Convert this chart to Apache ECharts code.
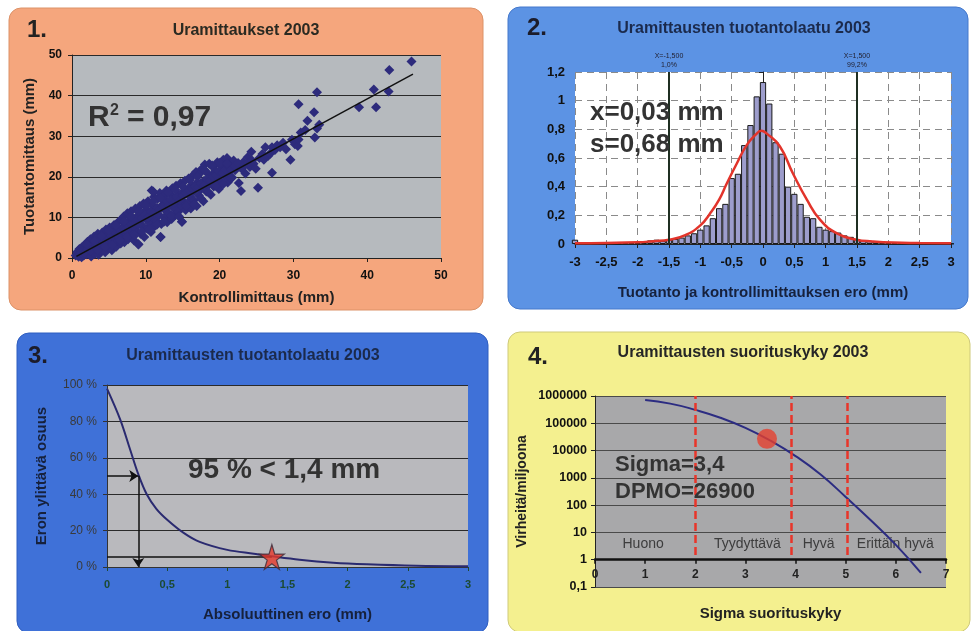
<!DOCTYPE html>
<html><head><meta charset="utf-8">
<script src="https://cdn.jsdelivr.net/npm/echarts@6/dist/echarts.min.js"></script>
<style>html,body{margin:0;padding:0;background:#fff}#c{width:971px;height:631px}</style>
</head><body><div id="c"></div>
<script>
const F = "'Liberation Sans', Arial, Helvetica, sans-serif";

// ---------- Panel 1: Uramittaukset 2003 (scatter) ----------
const scatterPoints = [
 [0.5,0.6],[0.7,1.5],[0.9,0.3],[1.0,2.2],[1.1,1.0],[1.3,0.2],[1.4,2.8],[1.5,1.6],[1.6,0.6],[1.8,3.3],
 [1.9,2.0],[2.0,0.9],[2.1,4.0],[2.3,2.7],[2.4,1.2],[2.5,4.6],[2.6,0.4],[2.7,3.4],[2.9,2.1],[3.0,5.3],
 [3.1,1.0],[3.2,3.9],[3.4,2.6],[3.5,6.0],[3.6,0.8],[3.7,4.6],[3.8,1.8],[4.0,3.5],[4.1,6.3],[4.2,2.3],
 [4.4,5.0],[4.5,1.4],[4.6,7.0],[4.7,3.6],[4.9,5.6],[5.0,2.6],[5.1,7.5],[5.2,4.3],[5.4,1.9],[5.5,6.4],
 [5.6,3.4],[5.7,8.1],[5.8,5.0],[6.0,2.8],[6.1,7.0],[6.2,4.2],[6.3,8.9],[6.4,5.7],[6.6,3.6],[6.7,9.4],
 [6.8,7.3],[6.9,5.0],[7.0,10.2],[7.1,3.9],[7.3,8.0],[7.4,6.0],[7.5,11.0],[7.6,4.6],[7.7,9.2],[7.9,7.0],
 [8.0,11.5],[8.1,5.5],[8.2,9.8],[8.4,4.3],[8.5,8.2],[8.6,12.2],[8.7,6.6],[8.9,10.4],[9.0,3.4],[9.1,8.9],
 [9.2,12.8],[9.3,6.0],[9.5,10.9],[9.6,7.8],[9.7,13.4],[9.8,5.2],[10.0,9.6],[10.1,12.0],[10.2,7.2],[10.3,14.0],
 [10.5,8.6],[10.6,11.0],[10.7,6.4],[10.8,16.6],[10.9,13.0],[11.0,9.8],[11.1,15.0],[11.2,7.8],[11.4,12.0],[11.5,9.0],
 [11.6,14.6],[11.8,10.6],[11.9,16.0],[12.0,5.2],[12.1,8.4],[12.2,13.0],[12.4,15.2],[12.5,10.0],[12.6,11.8],[12.8,16.6],
 [12.9,8.8],[13.0,13.8],[13.1,11.0],[13.3,15.8],[13.5,9.6],[13.6,17.2],[13.7,12.4],[13.9,14.6],[14.0,10.6],[14.1,17.8],
 [14.3,13.2],[14.4,11.4],[14.5,15.6],[14.7,18.4],[14.8,12.8],[14.9,8.9],[15.0,16.2],[15.1,14.0],[15.3,19.0],[15.4,11.8],
 [15.6,16.8],[15.7,13.6],[15.8,19.6],[16.0,15.0],[16.1,12.2],[16.2,18.0],[16.4,20.4],[16.5,14.2],[16.6,16.6],[16.8,21.2],
 [16.9,12.8],[17.0,18.6],[17.2,15.4],[17.3,20.8],[17.5,17.0],[17.6,22.0],[17.8,14.0],[17.9,19.0],[18.0,23.0],[18.2,16.4],
 [18.3,21.0],[18.5,18.0],[18.6,23.2],[18.8,15.6],[18.9,20.2],[19.1,22.4],[19.2,17.6],[19.4,21.4],[19.6,19.0],[19.7,23.6],
 [19.9,17.0],[20.0,20.8],[20.2,22.8],[20.3,18.6],[20.5,24.2],[20.7,20.2],[20.8,22.0],[21.0,24.6],[21.1,18.6],[21.3,21.4],
 [21.5,23.4],[21.7,19.8],[21.9,24.0],[22.1,21.6],[22.3,23.0],[22.6,18.5],[22.8,22.4],[22.9,16.5],[23.2,23.6],[23.5,20.8],
 [23.8,24.8],[24.1,22.4],[24.3,26.2],[24.6,23.2],[24.9,22.0],[25.2,17.3],[25.4,24.6],[25.8,25.6],[26.0,24.2],[26.2,27.3],
 [26.6,25.2],[26.8,25.6],[27.1,27.3],[27.1,21.0],[27.5,26.6],[27.8,27.8],[28.2,27.3],[28.6,28.4],[29.0,26.8],[29.6,24.2],
 [29.8,29.1],[30.2,28.0],[30.6,27.6],[30.7,29.2],[30.7,37.9],[31.0,30.9],[31.6,31.5],[31.9,33.8],[32.8,35.9],[32.9,29.7],
 [33.2,31.9],[33.2,40.8],[33.5,32.8],[38.9,37.1],[40.9,41.5],[41.2,37.1],[42.9,41.0],[43.0,46.3],[46.0,48.4],
 [11.0,16.4],[12.0,5.2],[9.0,3.3],[14.9,8.9],[3.3,4.8],[2.2,3.0],[1.2,1.8],[4.8,4.2],[6.5,6.6],[8.3,7.9],
 [10.4,10.2],[12.7,13.4],[14.6,14.4],[16.3,16.2],[18.1,18.8],[19.8,20.2],[7.8,8.4],[5.9,6.0],[3.9,4.0],
 [1.2,1.3],[1.7,1.2],[2.2,2.4],[2.8,3.0],[3.3,3.2],[3.9,4.6],[4.3,3.9],[4.8,5.3],[5.3,5.6],[5.9,6.2],
 [6.2,5.4],[6.5,6.9],[6.9,7.6],[7.2,7.0],[7.6,7.9],[7.9,8.6],[8.3,8.8],[8.7,9.3],[9.0,8.1],[9.4,9.8],
 [9.9,10.6],[10.3,10.0],[10.7,11.4],[11.1,11.2],[11.5,12.4],[11.9,12.0],[12.3,12.6],[12.7,14.2],[13.1,13.0],[13.4,14.4],
 [13.8,13.6],[14.2,15.0],[14.6,14.2],[15.0,15.4],[15.4,16.0],[15.9,16.8],[16.3,17.0],[16.7,17.6],[17.1,17.4],[17.5,18.4],
 [17.9,18.0],[18.3,19.4],[18.7,19.0],[19.1,20.0],[19.5,20.4],[19.9,21.4],[20.4,21.0],[20.8,21.8],[21.2,22.6],[21.6,21.8],
 [22.0,22.6],[22.5,23.4],[23.0,22.0],[23.4,23.0],[23.9,23.4],[24.4,24.0],
 [2.0,3.3],[3.0,4.2],[4.0,5.4],[5.0,6.8],[6.0,8.0],[7.0,9.0],[8.0,10.2],[9.0,11.6],[10.0,13.0],[11.0,14.0],
 [12.0,14.8],[13.0,16.2],[14.0,16.8],[15.0,17.6],[16.0,19.2],[17.0,20.0],[18.0,21.6],[19.0,22.8],[20.0,23.4],[21.0,23.2],
 [2.5,1.8],[3.5,2.0],[4.5,2.8],[5.5,3.2],[6.5,4.4],[7.5,5.2],[8.5,5.6],[9.5,6.6],[10.5,7.0],[11.5,8.2],
 [12.5,9.0],[13.5,10.4],[14.5,10.2],[15.5,12.8],[16.5,13.2],[17.5,14.6],[18.5,16.2],[19.5,17.8],[20.5,18.2],[21.5,19.6]
];
const trendLine = [[0.6, 0.4], [46.2, 45.3]];

// ---------- Panel 2: histogram of differences ----------
const histBins = [-3.0,-2.9,-2.8,-2.7,-2.6,-2.5,-2.4,-2.3,-2.2,-2.1,-2.0,-1.9,-1.8,-1.7,-1.6,-1.5,-1.4,-1.3,-1.2,-1.1,
 -1.0,-0.9,-0.8,-0.7,-0.6,-0.5,-0.4,-0.3,-0.2,-0.1,0.0,0.1,0.2,0.3,0.4,0.5,0.6,0.7,0.8,0.9,
 1.0,1.1,1.2,1.3,1.4,1.5,1.6,1.7,1.8,1.9,2.0,2.1,2.2,2.3,2.4,2.5,2.6,2.7,2.8,2.9,3.0];
const histHeights = [0.03,0.008,0.006,0.005,0.006,0.005,0.007,0.006,0.008,0.01,0.012,0.018,0.025,0.03,0.022,0.03,0.035,0.045,0.06,0.075,
 0.10,0.13,0.18,0.25,0.28,0.46,0.49,0.69,0.83,1.03,1.13,0.98,0.71,0.63,0.40,0.35,0.28,0.19,0.18,0.12,
 0.10,0.09,0.08,0.06,0.05,0.035,0.025,0.02,0.02,0.015,0.012,0.01,0.008,0.007,0.006,0.005,0.005,0.004,0.004,0.004,0.003];
const normalX = [-3,-2.5,-2,-1.75,-1.5,-1.25,-1,-0.85,-0.7,-0.58,-0.42,-0.26,-0.1,-0.03,0.06,0.27,0.48,0.7,0.91,1.18,1.49,1.75,2.08,2.5,3];
const normalY = [0.005,0.007,0.012,0.02,0.03,0.06,0.13,0.21,0.31,0.42,0.56,0.69,0.77,0.79,0.77,0.68,0.49,0.31,0.17,0.074,0.03,0.018,0.01,0.007,0.005];
const limitX = [-1.5, 1.5];
const limitLabels = ['X=-1,500\n1,0%', 'X=1,500\n99,2%'];

// ---------- Panel 3: exceedance curve ----------
const absDiff = [0,0.11,0.19,0.26,0.33,0.41,0.5,0.64,0.77,1.0,1.22,1.37,1.6,1.88,2.16,2.57,3.0];
const exceedShare = [98,81,65,51,40,32,26,18.6,13.8,9.4,7.3,5.9,4.0,2.4,1.5,0.7,0.4];
const halfPoint = [0.26, 50];
const p95Point = [1.37, 5.5];

// ---------- Panel 4: sigma performance ----------
const sigmaLevels = [1.0,1.5,2.0,2.5,3.0,3.5,4.0,4.5,5.0,5.5,6.0,6.5];
const dpmo = [710000,525000,310000,160000,68000,23000,6300,1320,200,28,3.5,0.33];
const currentPoint = [3.43, 26900];
const zoneBounds = [2.0, 3.92, 5.03];
const zoneNames = ['Huono','Tyydyttävä','Hyvä','Erittäin hyvä'];
const zoneLabelX = [0.96, 3.04, 4.46, 5.99];
const zoneLabelY = 3.8;

const comma = v => String(+v.toFixed(6)).replace('.', ',');

const G = [
 {left:72, top:55, width:369, height:203},
 {left:575, top:72, width:376, height:172},
 {left:107, top:385, width:361, height:182},
 {left:595, top:396, width:351, height:191}
];
const gridBg = ['#b6babe', '#ffffff', '#b9b9bd', '#a8a8aa'];

function txt(x, y, text, font, fill, align, extra) {
  return Object.assign({type:'text', x, y, z:100, style:{text, font, fill,
    align: align || 'left', textAlign: align || 'left', verticalAlign:'middle', textVerticalAlign:'middle'}}, extra || {});
}
function panel(x, y, w, h, fill, stroke) {
  return {type:'rect', z:-100, shape:{x, y, width:w, height:h, r:12}, style:{fill, stroke, lineWidth:1}};
}

const chart = echarts.init(document.getElementById('c'), null, {renderer:'canvas'});
const boldLbl = (size, color) => ({fontFamily:F, fontWeight:'bold', fontSize:size, color});

chart.setOption({
  animation:false,
  backgroundColor:'#ffffff',
  grid: G.map((g,i)=>Object.assign({show:true, backgroundColor:gridBg[i], borderWidth:0}, g)),
  graphic: [
    panel(9, 8, 474, 302, '#f5a67d', '#dc9268'),
    panel(508, 7, 460, 302, '#5c93e4', '#4478cc'),
    panel(17, 333, 471, 300, '#3f71d8', '#2f5ec0'),
    panel(508, 332, 462, 300, '#f4f08f', '#cfca7a'),
    txt(27, 30, '1.', 'bold 24px '+F, '#222'),
    txt(527, 28, '2.', 'bold 24px '+F, '#1c1c2a'),
    txt(28, 356, '3.', 'bold 24px '+F, '#1c1c2a'),
    txt(528, 357, '4.', 'bold 24px '+F, '#222'),
    txt(246, 31, 'Uramittaukset 2003', 'bold 16px '+F, '#2a2a22', 'center'),
    txt(744, 29, 'Uramittausten tuotantolaatu 2003', 'bold 16px '+F, '#1b2a4c', 'center'),
    txt(253, 356, 'Uramittausten tuotantolaatu 2003', 'bold 16px '+F, '#1b2a4c', 'center'),
    txt(743, 353, 'Uramittausten suorituskyky 2003', 'bold 16px '+F, '#262626', 'center'),
    txt(88, 118, 'R', 'bold 30px '+F, '#333'),
    txt(110, 111, '2', 'bold 16px '+F, '#333'),
    txt(127, 118, '= 0,97', 'bold 30px '+F, '#333'),
    txt(590, 113, 'x=0,03 mm', 'bold 26px '+F, '#333'),
    txt(590, 145, 's=0,68 mm', 'bold 26px '+F, '#333'),
    txt(188, 470, '95 % < 1,4 mm', 'bold 28px '+F, '#333'),
    txt(615, 465, 'Sigma=3,4', 'bold 22px '+F, '#333'),
    txt(615, 492, 'DPMO=26900', 'bold 22px '+F, '#333')
  ],
  xAxis: [
    {type:'value', gridIndex:0, min:0, max:50, interval:10,
     axisLine:{lineStyle:{color:'#222', width:1}}, axisTick:{show:true, length:4, lineStyle:{color:'#222'}},
     axisLabel:Object.assign({margin:12}, boldLbl(12,'#111')), splitLine:{show:false},
     name:'Kontrollimittaus (mm)', nameLocation:'middle', nameGap:32, nameTextStyle:boldLbl(15,'#222')},
    {type:'value', gridIndex:1, min:-3, max:3, interval:0.5,
     axisLine:{lineStyle:{color:'#222', width:1}}, axisTick:{show:true, length:4, lineStyle:{color:'#222'}},
     axisLabel:Object.assign({margin:12, formatter:comma}, boldLbl(13,'#111')),
     splitLine:{show:true, lineStyle:{color:'#8a8a8a', type:[7,5], width:1}},
     name:'Tuotanto ja kontrollimittauksen ero (mm)', nameLocation:'middle', nameGap:41, nameTextStyle:boldLbl(15,'#16213c')},
    {type:'value', gridIndex:2, min:0, max:3, interval:0.5,
     axisLine:{lineStyle:{color:'#333', width:1}}, axisTick:{show:true, length:4, lineStyle:{color:'#1f4a30'}},
     axisLabel:Object.assign({margin:12, formatter:comma}, boldLbl(11,'#1c4a32')), splitLine:{show:false},
     name:'Absoluuttinen ero (mm)', nameLocation:'middle', nameGap:40, nameTextStyle:boldLbl(15,'#16213c')},
    {type:'value', gridIndex:3, min:0, max:7, interval:1, offset: -G[3].height/7,
     axisLine:{lineStyle:{color:'#111', width:2.5}}, axisTick:{show:true, length:4, lineStyle:{color:'#111', width:1.5}},
     axisLabel:Object.assign({margin:9}, boldLbl(12,'#222')), splitLine:{show:false},
     name:'Sigma suorituskyky', nameLocation:'middle', nameGap:47, nameTextStyle:boldLbl(15,'#222')}
  ],
  yAxis: [
    {type:'value', gridIndex:0, min:0, max:50, interval:10,
     axisLine:{show:true, lineStyle:{color:'#222'}}, axisTick:{show:true, length:4, lineStyle:{color:'#222'}},
     axisLabel:Object.assign({margin:10}, boldLbl(12,'#111')),
     splitLine:{show:true, lineStyle:{color:'#2a2a2a', width:1}},
     name:'Tuotantomittaus (mm)', nameLocation:'middle', nameGap:35, nameTextStyle:boldLbl(15,'#222')},
    {type:'value', gridIndex:1, min:0, max:1.2, interval:0.2,
     axisLine:{show:true, lineStyle:{color:'#222'}}, axisTick:{show:true, length:4, lineStyle:{color:'#222'}},
     axisLabel:Object.assign({margin:10, formatter:comma}, boldLbl(13,'#111')),
     splitLine:{show:true, lineStyle:{color:'#8a8a8a', type:[7,5], width:1}}},
    {type:'value', gridIndex:2, min:0, max:100, interval:20,
     axisLine:{show:true, lineStyle:{color:'#333'}}, axisTick:{show:true, length:4, lineStyle:{color:'#333'}},
     axisLabel:{margin:10, formatter:'{value} %', fontFamily:F, fontSize:12, color:'#3a3a3a'},
     splitLine:{show:true, lineStyle:{color:'#2a2a2a', width:1}},
     name:'Eron ylittävä osuus', nameLocation:'middle', nameGap:58, nameTextStyle:boldLbl(15,'#16213c')},
    {type:'log', gridIndex:3, min:0.1, max:1000000, logBase:10,
     axisLine:{show:true, lineStyle:{color:'#222'}}, axisTick:{show:true, length:4, lineStyle:{color:'#222'}},
     axisLabel:Object.assign({margin:8, formatter:v=>comma(v)}, boldLbl(12.5,'#111')),
     splitLine:{show:true, lineStyle:{color:'#4a4a4a', width:1}},
     name:'Virheitä/miljoona', nameLocation:'middle', nameGap:66, nameTextStyle:boldLbl(14,'#222')}
  ],
  series: [
    {type:'scatter', xAxisIndex:0, yAxisIndex:0, data:scatterPoints, symbol:'diamond', symbolSize:10,
     itemStyle:{color:'#2d2b7c', opacity:1}},
    {type:'line', xAxisIndex:0, yAxisIndex:0, data:trendLine, symbol:'none', lineStyle:{color:'#111', width:1.5}},
    {type:'bar', xAxisIndex:1, yAxisIndex:1, data:histBins.map((x,i)=>[x, histHeights[i]]),
     barWidth: G[1].width/60, itemStyle:{color:'#9d9dcc', borderColor:'#1a1a1a', borderWidth:1},
     markLine:{symbol:'none', silent:true,
       lineStyle:{color:'#1f2f22', width:2, type:'solid'},
       label:{show:true, position:'end', fontFamily:F, fontSize:7, lineHeight:9, color:'#223', distance:2},
       data: limitX.map((x,i)=>({xAxis:x, label:{formatter:limitLabels[i]}}))}},
    {type:'line', xAxisIndex:1, yAxisIndex:1, data:normalX.map((x,i)=>[x, normalY[i]]), smooth:true,
     symbol:'none', lineStyle:{color:'#e2342b', width:2.5}},
    {type:'line', xAxisIndex:2, yAxisIndex:2, data:absDiff.map((x,i)=>[x, exceedShare[i]]), smooth:0.35,
     symbol:'none', lineStyle:{color:'#2a2a70', width:2},
     markLine:{silent:true, symbol:['none','arrow'], symbolSize:9,
       lineStyle:{color:'#111', width:1.5, type:'solid'}, label:{show:false},
       data:[
         [{coord:[0, halfPoint[1]]}, {coord:halfPoint}],
         [{coord:halfPoint}, {coord:[halfPoint[0], 0]}],
         [{coord:[0, p95Point[1]], symbol:'none'}, {coord:p95Point, symbol:'none'}]
       ]}},
    {type:'scatter', xAxisIndex:2, yAxisIndex:2, data:[p95Point], z:5,
     symbol:'path://M50,0 L61,35 L98,35 L68,57 L79,91 L50,70 L21,91 L32,57 L2,35 L39,35 Z', symbolSize:25,
     itemStyle:{color:'#e63a2a', borderColor:'#3a2a3a', borderWidth:1.2}},
    {type:'line', xAxisIndex:3, yAxisIndex:3, data:sigmaLevels.map((x,i)=>[x, dpmo[i]]), smooth:0.5,
     symbol:'none', lineStyle:{color:'#2c2c82', width:2},
     markLine:{silent:true, symbol:'none', lineStyle:{color:'#e8352a', width:2.5, type:[8,4]}, label:{show:false},
       data: zoneBounds.map(x=>[{coord:[x, 1.5]}, {coord:[x, 1000000]}])}},
    {type:'scatter', xAxisIndex:3, yAxisIndex:3, data:[currentPoint], symbol:'circle', symbolSize:20, z:5,
     itemStyle:{color:'#e5402f'}},
    {type:'scatter', xAxisIndex:3, yAxisIndex:3, symbolSize:0, silent:true,
     data: zoneNames.map((n,i)=>({value:[zoneLabelX[i], zoneLabelY], name:n})),
     label:{show:true, position:'inside', formatter:p=>p.name, fontFamily:F, fontSize:14, color:'#222'}}
  ]
});
</script></body></html>
